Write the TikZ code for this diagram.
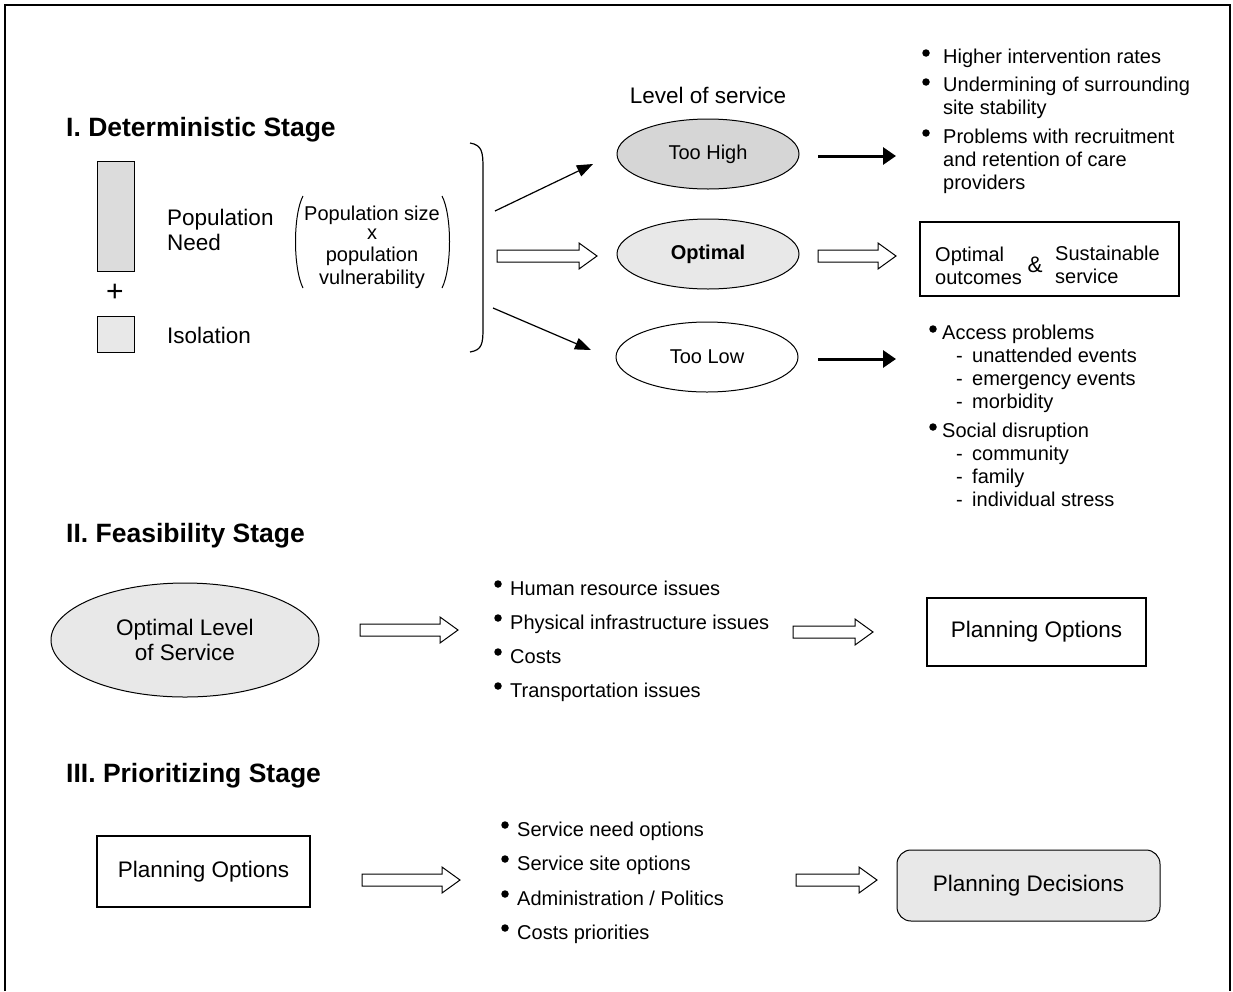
\documentclass[tikz,border=0pt]{standalone}
\usepackage{fontspec}
\setmainfont{Liberation Sans}
\usetikzlibrary{arrows.meta,calc,shapes.geometric}
\definecolor{lg}{RGB}{232,232,232}
\definecolor{mg}{RGB}{220,220,220}
\definecolor{dg}{RGB}{214,214,214}
\begin{document}
\begin{tikzpicture}[x=1pt,y=-1pt,
  every node/.style={font=\fontsize{20}{23}\selectfont, inner sep=0pt},
  big/.style={font=\fontsize{22.5}{25.5}\selectfont},
  title/.style={font=\fontsize{26.5}{30}\selectfont\bfseries, anchor=base west},
  txt/.style={anchor=west, align=left},
  ln/.style={anchor=base west},
  ctr/.style={align=center},
  ell/.style={ellipse, draw, line width=1pt, minimum width=182, minimum height=70},
  box/.style={draw, line width=1.2pt},
  dot/.style={circle, fill=black, minimum size=7.5},
  thinarrow/.style={line width=1.2pt, -{Triangle[length=16pt,width=12pt]}},
  thickarrow/.style={line width=3pt, -{Triangle[length=13pt,width=17pt]}},
  hollow/.style={line width=1pt, to path={let \p1=(\tikztostart), \p2=(\tikztotarget) in
     (\x1,\y1+6pt) -- (\x2-18pt,\y1+6pt) -- (\x2-18pt,\y1+13pt) -- (\x2,\y1) --
     (\x2-18pt,\y1-13pt) -- (\x2-18pt,\y1-6pt) -- (\x1,\y1-6pt) -- cycle}}
]
\useasboundingbox (0,0) rectangle (1233,991);
% frame
\draw[line width=1.2pt] (5,991) -- (5,5) -- (1230,5) -- (1230,991);

% ===== Stage I =====
\node[title] (t1) at (66,136) {I. Deterministic Stage};
\node[box, fill=mg, minimum width=37, minimum height=110, line width=1pt] (need) at (115.5,216) {};
\node[font=\fontsize{30}{30}\selectfont] (plus) at (115,293) {+};
\node[box, fill=lg, minimum width=37, minimum height=36, line width=1pt] (iso) at (115.5,334) {};
\node[txt, big] (popneed) at (167,230) {Population\\Need};
\node[ln, big] (isol) at (167,343) {Isolation};
\node[ctr] (formula) at (372,247) {Population size\\[-4pt]x\\[-1pt]population\\vulnerability};
\draw[line width=1pt] (303,196) .. controls (293,215) and (293,268) .. (303,288);
\draw[line width=1pt] (442,196) .. controls (452,215) and (452,268) .. (442,288);
% big bracket
\draw[line width=1.2pt] (470,143) .. controls (482,145) and (483,152) .. (483,168) -- (483,328) .. controls (483,344) and (482,350) .. (470,352);

\node[big, anchor=base] (los) at (708,103) {Level of service};
\node[ell, fill=dg] (high) at (708,154) {Too High};
\node[ell, fill=lg] (opt) at (708,254) {\textbf{Optimal}};
\node[ell, fill=white] (low) at (707,357) {Too Low};

\coordinate (a1s) at (495,211); \coordinate (a1e) at (593,164);
\draw[thinarrow] (a1s) -- (a1e);
\coordinate (a2s) at (497,256); \coordinate (a2e) at (597,256);
\draw[hollow] (a2s) to (a2e);
\coordinate (a3s) at (493,308); \coordinate (a3e) at (591,350);
\draw[thinarrow] (a3s) -- (a3e);

\coordinate (b1s) at (818,156); \coordinate (b1e) at (896,156);
\draw[thickarrow] (b1s) -- (b1e);
\coordinate (b2s) at (818,256); \coordinate (b2e) at (896,256);
\draw[hollow] (b2s) to (b2e);
\coordinate (b3s) at (818,359); \coordinate (b3e) at (896,359);
\draw[thickarrow] (b3s) -- (b3e);

% too high consequences
\node[dot] (hb1) at (926,53) {};
\node[ln] (h1) at (943,63) {Higher intervention rates};
\node[dot] (hb2) at (926,82) {};
\node[txt] (h2) at (943,98) {Undermining of surrounding\\site stability};
\node[dot] (hb3) at (926,133) {};
\node[txt] (h3) at (943,161) {Problems with recruitment\\and retention of care\\providers};

% optimal outcome box
\node[box, minimum width=259, minimum height=74] (outbox) at (1049.5,259) {};
\node[txt] (oo) at (935,266) {Optimal\\outcomes};
\node[big] (amp) at (1035,265) {\&};
\node[txt] (ss) at (1055,265) {Sustainable\\service};

% too low consequences
\node[dot] (lb1) at (933,329) {};
\node[ln] (l1) at (942,339) {Access problems};
\node[ln] (d1) at (956,362) {-}; \node[ln] (l2) at (972,362) {unattended events};
\node[ln] (d2) at (956,385) {-}; \node[ln] (l3) at (972,385) {emergency events};
\node[ln] (d3) at (956,408) {-}; \node[ln] (l4) at (972,408) {morbidity};
\node[dot] (lb2) at (933,427) {};
\node[ln] (l5) at (942,437) {Social disruption};
\node[ln] (d4) at (956,460) {-}; \node[ln] (l6) at (972,460) {community};
\node[ln] (d5) at (956,483) {-}; \node[ln] (l7) at (972,483) {family};
\node[ln] (d6) at (956,506) {-}; \node[ln] (l8) at (972,506) {individual stress};

% ===== Stage II =====
\node[title] (t2) at (66,542) {II. Feasibility Stage};
\node[ellipse, draw, line width=1pt, fill=lg, minimum width=268, minimum height=114, align=center, big] (olos) at (185,640) {Optimal Level\\of Service};
\coordinate (c1s) at (360,630); \coordinate (c1e) at (458,630);
\draw[hollow] (c1s) to (c1e);
\node[dot] (fb1) at (498,584) {};
\node[ln] (f1) at (510,595) {Human resource issues};
\node[dot] (fb2) at (498,618) {};
\node[ln] (f2) at (510,629) {Physical infrastructure issues};
\node[dot] (fb3) at (498,652) {};
\node[ln] (f3) at (510,663) {Costs};
\node[dot] (fb4) at (498,686) {};
\node[ln] (f4) at (510,697) {Transportation issues};
\coordinate (c2s) at (793,632); \coordinate (c2e) at (873,632);
\draw[hollow] (c2s) to (c2e);
\node[box, minimum width=219, minimum height=68, big] (po1) at (1036.5,632) {Planning Options};

% ===== Stage III =====
\node[title] (t3) at (66,782) {III. Prioritizing Stage};
\node[box, minimum width=213, minimum height=71, big] (po2) at (203.5,871.5) {Planning Options};
\coordinate (e1s) at (362,880); \coordinate (e1e) at (460,880);
\draw[hollow] (e1s) to (e1e);
\node[dot] (pb1) at (505,825) {};
\node[ln] (p1) at (517,836) {Service need options};
\node[dot] (pb2) at (505,859) {};
\node[ln] (p2) at (517,870) {Service site options};
\node[dot] (pb3) at (505,894) {};
\node[ln] (p3) at (517,905) {Administration / Politics};
\node[dot] (pb4) at (505,928) {};
\node[ln] (p4) at (517,939) {Costs priorities};
\coordinate (e2s) at (796,880); \coordinate (e2e) at (877,880);
\draw[hollow] (e2s) to (e2e);
\node[box, line width=1pt, fill=lg, rounded corners=14pt, minimum width=263, minimum height=71, big] (pd) at (1028.5,885.5) {\raisebox{5pt}{Planning Decisions}};
\end{tikzpicture}
\end{document}
